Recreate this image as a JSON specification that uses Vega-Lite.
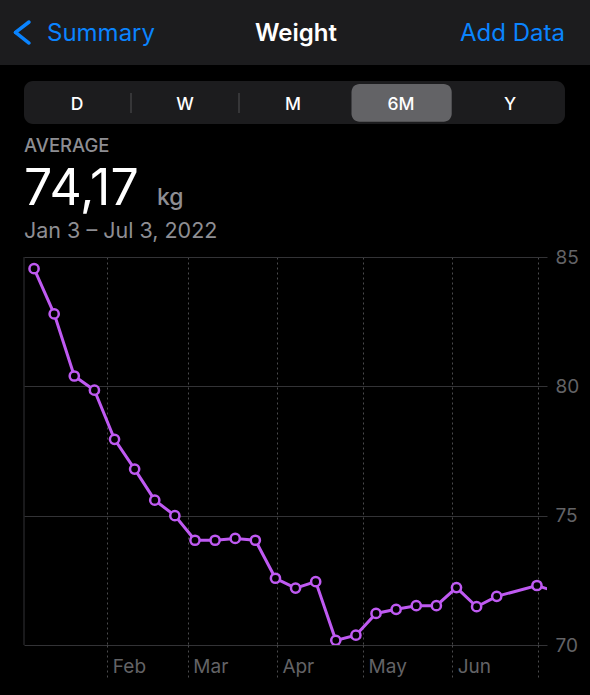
{
  "$schema": "https://vega.github.io/schema/vega-lite/v6.json",
  "width": 523,
  "height": 388,
  "autosize": {"type": "none"},
  "padding": {"left": 24, "top": 257, "right": 43, "bottom": 50},
  "background": "#000000",
  "config": {"view": {"stroke": null}, "font": "Inter"},
  "datasets": {
    "weights": [
      {"week": "2022-01-06T12:00:00Z", "kg": 84.55},
      {"week": "2022-01-13T12:00:00Z", "kg": 82.8},
      {"week": "2022-01-20T12:00:00Z", "kg": 80.4},
      {"week": "2022-01-27T12:00:00Z", "kg": 79.85},
      {"week": "2022-02-03T12:00:00Z", "kg": 77.95},
      {"week": "2022-02-10T12:00:00Z", "kg": 76.8},
      {"week": "2022-02-17T12:00:00Z", "kg": 75.6},
      {"week": "2022-02-24T12:00:00Z", "kg": 75.0},
      {"week": "2022-03-03T12:00:00Z", "kg": 74.05},
      {"week": "2022-03-10T12:00:00Z", "kg": 74.05},
      {"week": "2022-03-17T12:00:00Z", "kg": 74.12},
      {"week": "2022-03-24T12:00:00Z", "kg": 74.05},
      {"week": "2022-03-31T12:00:00Z", "kg": 72.58},
      {"week": "2022-04-07T12:00:00Z", "kg": 72.2},
      {"week": "2022-04-14T12:00:00Z", "kg": 72.45},
      {"week": "2022-04-21T12:00:00Z", "kg": 70.18},
      {"week": "2022-04-28T12:00:00Z", "kg": 70.38},
      {"week": "2022-05-05T12:00:00Z", "kg": 71.22},
      {"week": "2022-05-12T12:00:00Z", "kg": 71.38},
      {"week": "2022-05-19T12:00:00Z", "kg": 71.52},
      {"week": "2022-05-26T12:00:00Z", "kg": 71.52},
      {"week": "2022-06-02T12:00:00Z", "kg": 72.22},
      {"week": "2022-06-09T12:00:00Z", "kg": 71.48},
      {"week": "2022-06-16T12:00:00Z", "kg": 71.88},
      {"week": "2022-06-30T12:00:00Z", "kg": 72.3},
      {"week": "2022-07-07T12:00:00Z", "kg": 72.05}
    ]
  },
  "layer": [
    {
      "data": {"values": [{}]},
      "mark": {"type": "rule", "color": "#333336", "strokeWidth": 1},
      "encoding": {
        "x": {"datum": {"year": 2022, "month": 1, "date": 3, "utc": true}, "type": "temporal"}
      }
    },
    {
      "data": {"name": "weights"},
      "mark": {"type": "line", "color": "#BF5AF2", "strokeWidth": 3, "clip": true},
      "encoding": {
        "x": {
          "field": "week",
          "type": "temporal",
          "scale": {"type": "utc", "domain": [{"year": 2022, "month": 1, "date": 3, "utc": true}, {"year": 2022, "month": 7, "date": 4, "utc": true}]},
          "axis": {
            "title": null,
            "values": [
              {"year": 2022, "month": 2, "date": 1, "utc": true},
              {"year": 2022, "month": 3, "date": 1, "utc": true},
              {"year": 2022, "month": 4, "date": 1, "utc": true},
              {"year": 2022, "month": 5, "date": 1, "utc": true},
              {"year": 2022, "month": 6, "date": 1, "utc": true},
              {"year": 2022, "month": 7, "date": 1, "utc": true}
            ],
            "format": "%b",
            "labelExpr": "utcmonth(datum.value) == 6 ? '' : datum.label",
            "labelAlign": "left",
            "labelOffset": 5,
            "labelBaseline": "alphabetic",
            "labelPadding": -6,
            "labelFontSize": 19,
            "labelColor": "#636366",
            "labelFont": "Inter",
            "labelFlush": false,
            "labelOverlap": false,
            "grid": true,
            "gridColor": "#4a4a4c",
            "gridDash": [2, 3],
            "gridWidth": 1,
            "ticks": true,
            "tickSize": 33,
            "tickColor": "#4a4a4c",
            "tickDash": [2, 3],
            "tickWidth": 1,
            "domain": false
          }
        },
        "y": {
          "field": "kg",
          "type": "quantitative",
          "scale": {"domain": [70, 85], "zero": false, "nice": false},
          "axis": {
            "title": null,
            "orient": "right",
            "values": [70, 75, 80, 85],
            "grid": true,
            "gridColor": "#333336",
            "gridWidth": 1,
            "ticks": false,
            "domain": false,
            "labelPadding": 8,
            "labelFontSize": 19,
            "labelColor": "#636366",
            "labelFont": "Inter",
            "labelFlush": false
          }
        }
      }
    },
    {
      "data": {"values": [{}]},
      "mark": {"type": "rect", "fill": "#1c1c1e"},
      "encoding": {
        "x": {"datum": {"year": 2021, "month": 12, "date": 25, "hours": 15, "minutes": 33, "utc": true}, "type": "temporal"},
        "x2": {"datum": {"year": 2022, "month": 7, "date": 19, "utc": true}},
        "y": {"datum": 94.936, "type": "quantitative"},
        "y2": {"datum": 92.423}
      }
    },
    {
      "data": {"values": [{}]},
      "mark": {"type": "rule", "color": "#0A84FF", "strokeWidth": 3.5, "strokeCap": "round"},
      "encoding": {
        "x": {"datum": {"year": 2022, "month": 1, "date": 4, "hours": 17, "minutes": 46, "utc": true}, "type": "temporal"},
        "x2": {"datum": {"year": 2021, "month": 12, "date": 31, "hours": 1, "utc": true}},
        "y": {"datum": 94.085, "type": "quantitative"},
        "y2": {"datum": 93.68}
      }
    },
    {
      "data": {"values": [{}]},
      "mark": {"type": "rule", "color": "#0A84FF", "strokeWidth": 3.5, "strokeCap": "round"},
      "encoding": {
        "x": {"datum": {"year": 2021, "month": 12, "date": 31, "hours": 1, "utc": true}, "type": "temporal"},
        "x2": {"datum": {"year": 2022, "month": 1, "date": 4, "hours": 17, "minutes": 46, "utc": true}},
        "y": {"datum": 93.68, "type": "quantitative"},
        "y2": {"datum": 93.273}
      }
    },
    {
      "data": {"values": [{"t": "Summary"}]},
      "mark": {"type": "text", "align": "left", "baseline": "alphabetic", "fontSize": 24, "color": "#0A84FF", "font": "Inter"},
      "encoding": {
        "text": {"field": "t"},
        "x": {"datum": {"year": 2022, "month": 1, "date": 11, "utc": true}, "type": "temporal"},
        "y": {"datum": 93.351, "type": "quantitative"}
      }
    },
    {
      "data": {"values": [{"t": "Weight"}]},
      "mark": {"type": "text", "align": "center", "baseline": "alphabetic", "fontSize": 24, "fontWeight": 600, "color": "#ffffff", "font": "Inter"},
      "encoding": {
        "text": {"field": "t"},
        "x": {"datum": {"year": 2022, "month": 4, "date": 7, "hours": 15, "minutes": 42, "utc": true}, "type": "temporal"},
        "y": {"datum": 93.351, "type": "quantitative"}
      }
    },
    {
      "data": {"values": [{"t": "Add Data"}]},
      "mark": {"type": "text", "align": "right", "baseline": "alphabetic", "fontSize": 24, "color": "#0A84FF", "font": "Inter"},
      "encoding": {
        "text": {"field": "t"},
        "x": {"datum": {"year": 2022, "month": 7, "date": 10, "hours": 6, "minutes": 14, "utc": true}, "type": "temporal"},
        "y": {"datum": 93.351, "type": "quantitative"}
      }
    },
    {
      "data": {"values": [{}]},
      "mark": {"type": "rect", "fill": "#1c1c1e", "cornerRadius": 9},
      "encoding": {
        "x": {"datum": {"year": 2022, "month": 1, "date": 3, "utc": true}, "type": "temporal"},
        "x2": {"datum": {"year": 2022, "month": 7, "date": 10, "hours": 6, "minutes": 14, "utc": true}},
        "y": {"datum": 91.804, "type": "quantitative"},
        "y2": {"datum": 90.142}
      }
    },
    {
      "data": {"values": [{}]},
      "mark": {"type": "rect", "fill": "#636366", "cornerRadius": 8},
      "encoding": {
        "x": {"datum": {"year": 2022, "month": 4, "date": 26, "hours": 23, "minutes": 13, "utc": true}, "type": "temporal"},
        "x2": {"datum": {"year": 2022, "month": 5, "date": 31, "hours": 20, "minutes": 4, "utc": true}},
        "y": {"datum": 91.688, "type": "quantitative"},
        "y2": {"datum": 90.231}
      }
    },
    {
      "data": {"values": [{}]},
      "mark": {"type": "rule", "color": "#48484a", "strokeWidth": 1.2},
      "encoding": {
        "x": {"datum": {"year": 2022, "month": 2, "date": 9, "hours": 5, "minutes": 38, "utc": true}, "type": "temporal"},
        "y": {"datum": 91.34, "type": "quantitative"},
        "y2": {"datum": 90.567}
      }
    },
    {
      "data": {"values": [{}]},
      "mark": {"type": "rule", "color": "#48484a", "strokeWidth": 1.2},
      "encoding": {
        "x": {"datum": {"year": 2022, "month": 3, "date": 18, "hours": 19, "minutes": 38, "utc": true}, "type": "temporal"},
        "y": {"datum": 91.34, "type": "quantitative"},
        "y2": {"datum": 90.567}
      }
    },
    {
      "data": {"values": [{"t": "D"}]},
      "mark": {"type": "text", "align": "center", "baseline": "alphabetic", "fontSize": 17.5, "fontWeight": 500, "color": "#ffffff", "font": "Inter"},
      "encoding": {
        "text": {"field": "t"},
        "x": {"datum": {"year": 2022, "month": 1, "date": 21, "hours": 10, "minutes": 38, "utc": true}, "type": "temporal"},
        "y": {"datum": 90.702, "type": "quantitative"}
      }
    },
    {
      "data": {"values": [{"t": "W"}]},
      "mark": {"type": "text", "align": "center", "baseline": "alphabetic", "fontSize": 17.5, "fontWeight": 500, "color": "#ffffff", "font": "Inter"},
      "encoding": {
        "text": {"field": "t"},
        "x": {"datum": {"year": 2022, "month": 2, "date": 28, "hours": 0, "minutes": 39, "utc": true}, "type": "temporal"},
        "y": {"datum": 90.702, "type": "quantitative"}
      }
    },
    {
      "data": {"values": [{"t": "M"}]},
      "mark": {"type": "text", "align": "center", "baseline": "alphabetic", "fontSize": 17.5, "fontWeight": 500, "color": "#ffffff", "font": "Inter"},
      "encoding": {
        "text": {"field": "t"},
        "x": {"datum": {"year": 2022, "month": 4, "date": 6, "hours": 14, "minutes": 38, "utc": true}, "type": "temporal"},
        "y": {"datum": 90.702, "type": "quantitative"}
      }
    },
    {
      "data": {"values": [{"t": "6M"}]},
      "mark": {"type": "text", "align": "center", "baseline": "alphabetic", "fontSize": 17.5, "fontWeight": 500, "color": "#ffffff", "font": "Inter"},
      "encoding": {
        "text": {"field": "t"},
        "x": {"datum": {"year": 2022, "month": 5, "date": 14, "hours": 4, "minutes": 38, "utc": true}, "type": "temporal"},
        "y": {"datum": 90.702, "type": "quantitative"}
      }
    },
    {
      "data": {"values": [{"t": "Y"}]},
      "mark": {"type": "text", "align": "center", "baseline": "alphabetic", "fontSize": 17.5, "fontWeight": 500, "color": "#ffffff", "font": "Inter"},
      "encoding": {
        "text": {"field": "t"},
        "x": {"datum": {"year": 2022, "month": 6, "date": 21, "hours": 2, "minutes": 59, "utc": true}, "type": "temporal"},
        "y": {"datum": 90.702, "type": "quantitative"}
      }
    },
    {
      "data": {"values": [{"t": "AVERAGE"}]},
      "mark": {"type": "text", "align": "left", "baseline": "alphabetic", "fontSize": 18.5, "fontWeight": 500, "color": "#8e8e93", "font": "Inter"},
      "encoding": {
        "text": {"field": "t"},
        "x": {"datum": {"year": 2022, "month": 1, "date": 3, "utc": true}, "type": "temporal"},
        "y": {"datum": 89.071, "type": "quantitative"}
      }
    },
    {
      "data": {"values": [{"t": "74,17"}]},
      "mark": {"type": "text", "align": "left", "baseline": "alphabetic", "fontSize": 50, "fontWeight": 400, "color": "#ffffff", "font": "Inter"},
      "encoding": {
        "text": {"field": "t"},
        "x": {"datum": {"year": 2022, "month": 1, "date": 3, "utc": true}, "type": "temporal"},
        "y": {"datum": 87.01, "type": "quantitative"}
      }
    },
    {
      "data": {"values": [{"t": "kg"}]},
      "mark": {"type": "text", "align": "left", "baseline": "alphabetic", "fontSize": 23, "fontWeight": 500, "color": "#8e8e93", "font": "Inter"},
      "encoding": {
        "text": {"field": "t"},
        "x": {"datum": {"year": 2022, "month": 2, "date": 18, "hours": 6, "minutes": 48, "utc": true}, "type": "temporal"},
        "y": {"datum": 87.01, "type": "quantitative"}
      }
    },
    {
      "data": {"values": [{"t": "Jan 3 – Jul 3, 2022"}]},
      "mark": {"type": "text", "align": "left", "baseline": "alphabetic", "fontSize": 21.5, "fontWeight": 400, "color": "#8e8e93", "font": "Inter"},
      "encoding": {
        "text": {"field": "t"},
        "x": {"datum": {"year": 2022, "month": 1, "date": 3, "utc": true}, "type": "temporal"},
        "y": {"datum": 85.723, "type": "quantitative"}
      }
    },
    {
      "data": {"name": "weights"},
      "mark": {"type": "point", "filled": true, "fill": "#000000", "stroke": "#BF5AF2", "strokeWidth": 2.5, "size": 85, "opacity": 1, "clip": true},
      "encoding": {
        "x": {"field": "week", "type": "temporal"},
        "y": {"field": "kg", "type": "quantitative"}
      }
    }
  ]
}
